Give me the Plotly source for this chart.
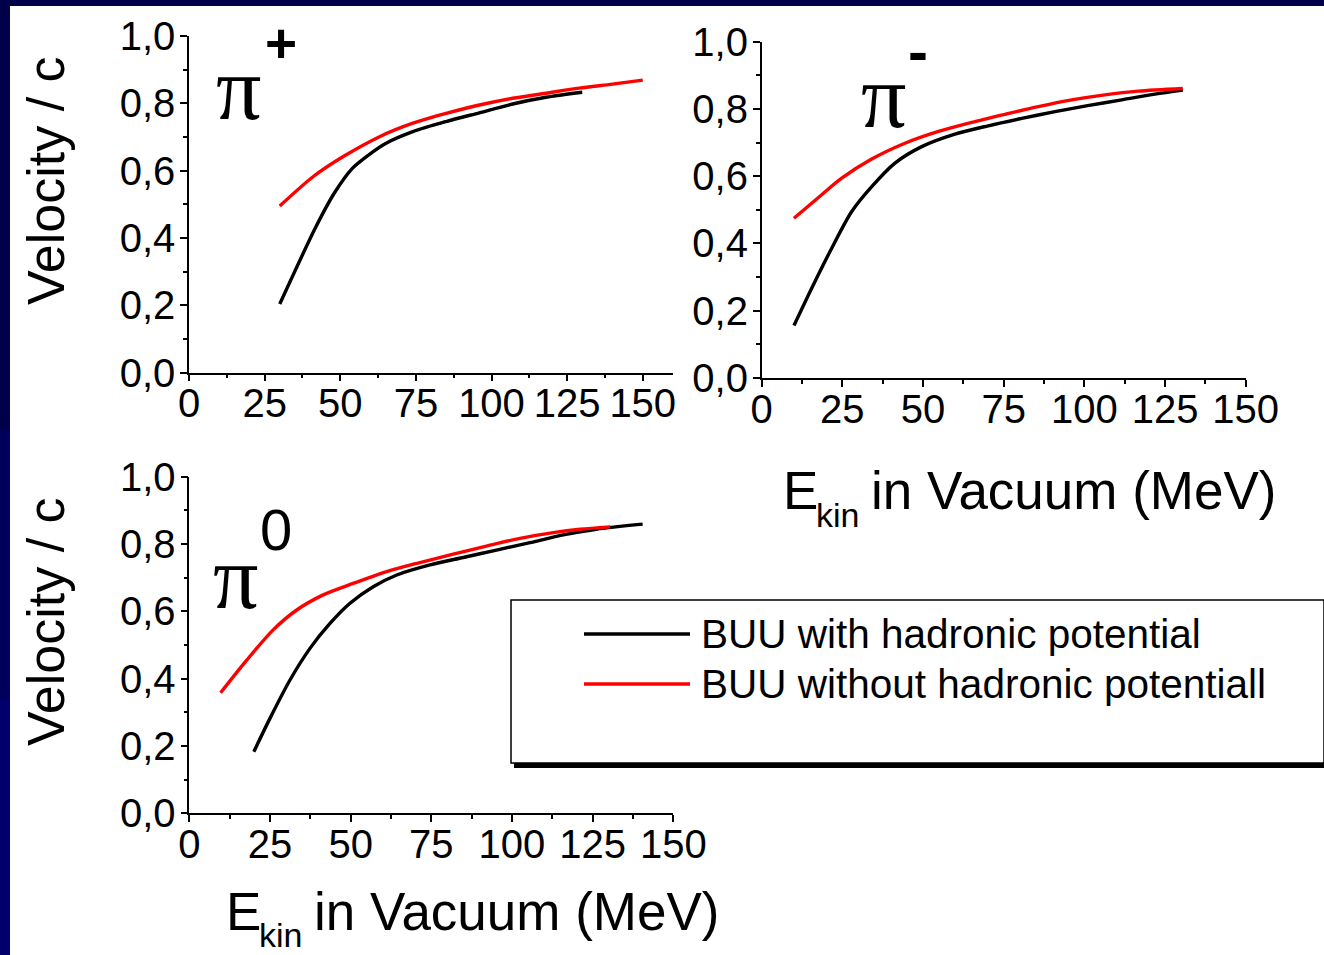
import plotly.graph_objects as go

W, H = 1324, 955

# ---- data: velocity (v/c) versus kinetic energy in vacuum (MeV) ----
# pi+
pip_e_with = [30, 42, 48, 54, 60, 65, 74, 85, 96, 107, 118, 130]
pip_v_with = [0.204, 0.434, 0.533, 0.607, 0.651, 0.681, 0.716, 0.746, 0.772, 0.798, 0.818, 0.833]
pip_e_without = [30, 41, 51, 63, 74, 85, 96, 107, 118, 129, 140, 150]
pip_v_without = [0.495, 0.582, 0.642, 0.701, 0.741, 0.770, 0.795, 0.815, 0.830, 0.845, 0.857, 0.869]

# pi-
pim_e_with = [10, 15.5, 21.7, 27.9, 34.1, 41.3, 49.6, 59.9, 70.2, 80.6, 90.9, 101, 111.6, 121.9, 130.5]
pim_v_with = [0.156, 0.267, 0.386, 0.495, 0.569, 0.639, 0.688, 0.725, 0.750, 0.772, 0.792, 0.810, 0.827, 0.844, 0.856]
pim_e_without = [10, 18.6, 24.8, 34.1, 44.4, 54.8, 65.1, 75.4, 85.7, 96.1, 106.4, 116.7, 130.5]
pim_v_without = [0.475, 0.545, 0.594, 0.651, 0.698, 0.733, 0.760, 0.784, 0.807, 0.827, 0.842, 0.853, 0.861]

# pi0
pi0_e_with = [20, 25, 31.2, 37.4, 43.6, 49.8, 57, 64.3, 74.6, 84.9, 95.2, 105.6, 115.9, 126.2, 140.5]
pi0_v_with = [0.183, 0.282, 0.396, 0.490, 0.564, 0.624, 0.673, 0.708, 0.738, 0.760, 0.782, 0.804, 0.827, 0.844, 0.859]
pi0_e_without = [9.7, 17.8, 26, 33.3, 41.5, 50.8, 61.2, 71.5, 81.8, 92.1, 102.5, 112.8, 121.1, 130.4]
pi0_v_without = [0.358, 0.455, 0.545, 0.604, 0.649, 0.683, 0.718, 0.745, 0.770, 0.794, 0.817, 0.834, 0.844, 0.851]

x_ticks = [0, 25, 50, 75, 100, 125, 150]
y_ticks = [0.0, 0.2, 0.4, 0.6, 0.8, 1.0]

series_names = ["BUU with hadronic potential", "BUU without hadronic potentiall"]
series_colors = ["#000000", "#ff0000"]

SANS = "Liberation Sans"
SERIF = "Liberation Serif"


def fx(px):
    return min(max(px / W, 0), 1)


def fy(py):
    return min(max(1 - py / H, 0), 1)


fig = go.Figure()

panels = [
    ("x", "y", pip_e_with, pip_v_with, pip_e_without, pip_v_without),
    ("x2", "y2", pim_e_with, pim_v_with, pim_e_without, pim_v_without),
    ("x3", "y3", pi0_e_with, pi0_v_with, pi0_e_without, pi0_v_without),
]
for xa, ya, ew, vw, eo, vo in panels:
    for e, v, name, col in ((ew, vw, series_names[0], series_colors[0]),
                            (eo, vo, series_names[1], series_colors[1])):
        fig.add_trace(go.Scatter(
            x=e, y=v, xaxis=xa, yaxis=ya, mode="lines", name=name,
            line=dict(color=col, width=3.4, shape="spline", smoothing=0.8),
            showlegend=False, hoverinfo="skip"))


def xaxis(domain, rng, anchor):
    return dict(domain=domain, range=rng, anchor=anchor,
                showline=True, linecolor="black", linewidth=1.5,
                ticks="outside", ticklen=7, tickwidth=1.5, tickcolor="black",
                tickmode="array", tickvals=x_ticks,
                tickfont=dict(family=SANS, size=40, color="black"),
                ticklabelstandoff=-12, automargin=False,
                minor=dict(ticks="outside", ticklen=4, tickwidth=1.5,
                           tickcolor="black", dtick=12.5, tick0=0),
                showgrid=False, zeroline=False, fixedrange=True)


def yaxis(domain, anchor):
    return dict(domain=domain, range=[0, 1], anchor=anchor,
                showline=True, linecolor="black", linewidth=1.5,
                ticks="outside", ticklen=7, tickwidth=1.5, tickcolor="black",
                tickmode="array", tickvals=y_ticks, tickformat=".1f",
                tickfont=dict(family=SANS, size=40, color="black"),
                ticklabelstandoff=-3, automargin=False,
                minor=dict(ticks="outside", ticklen=4, tickwidth=1.5,
                           tickcolor="black", dtick=0.1, tick0=0),
                showgrid=False, zeroline=False, fixedrange=True)


shapes = [
    # shading of the navy frame on the left edge
    dict(type="rect", xref="paper", yref="paper", x0=0, x1=fx(10), y0=fy(700), y1=fy(430),
         fillcolor="#00005a", line=dict(width=0), layer="below"),
    dict(type="rect", xref="paper", yref="paper", x0=0, x1=fx(10), y0=0, y1=fy(700),
         fillcolor="#00006c", line=dict(width=0), layer="below"),
    # white page area inside the navy frame
    dict(type="rect", xref="paper", yref="paper", x0=fx(10), x1=1, y0=0, y1=fy(6),
         fillcolor="white", line=dict(width=0), layer="below"),
    # legend box with shadow (runs off the right edge)
    dict(type="rect", xref="paper", yref="paper", x0=fx(514), x1=1, y0=fy(768), y1=fy(762),
         fillcolor="black", line=dict(width=0)),
    dict(type="rect", xref="paper", yref="paper", x0=fx(511), x1=1, y0=fy(763), y1=fy(600),
         fillcolor="white", line=dict(color="black", width=1.5)),
    dict(type="line", xref="paper", yref="paper", x0=fx(584), x1=fx(690), y0=fy(634), y1=fy(634),
         line=dict(color=series_colors[0], width=3.4)),
    dict(type="line", xref="paper", yref="paper", x0=fx(584), x1=fx(690), y0=fy(684), y1=fy(684),
         line=dict(color=series_colors[1], width=3.4)),
]


def label(text, x, y, size, family=SANS, xanchor="center", yanchor="middle", angle=0, bold=False):
    t = f"<b>{text}</b>" if bold else text
    return dict(text=t, x=fx(x), y=fy(y), xref="paper", yref="paper",
                xanchor=xanchor, yanchor=yanchor, textangle=angle, showarrow=False,
                font=dict(family=family, size=size, color="black"))


annotations = [
    label("Velocity / c", 46, 181, 52, angle=-90),
    label("Velocity / c", 46, 622, 52, angle=-90),
    # x titles
    label("E", 781, 491, 53, xanchor="left"),
    label("kin", 814, 515, 34, xanchor="left"),
    label("in Vacuum (MeV)", 869, 491, 53, xanchor="left"),
    label("E", 224, 911, 53, xanchor="left"),
    label("kin", 257, 935, 34, xanchor="left"),
    label("in Vacuum (MeV)", 312, 911, 53, xanchor="left"),
    # particle labels
    label("π", 238, 88, 90, family=SERIF),
    label("+", 281, 43, 55, bold=True),
    label("π", 883, 96, 90, family=SERIF),
    label("-", 918, 52, 60, bold=True),
    label("π", 235, 577, 90, family=SERIF),
    label("0", 276, 529, 58),
    # legend entries
    label(series_names[0], 699, 634, 40.5, xanchor="left"),
    label(series_names[1], 699, 684, 40.5, xanchor="left"),
]

fig.update_layout(
    width=W, height=H,
    autosize=False,
    margin=dict(l=0, r=0, t=0, b=0, pad=0, autoexpand=False),
    paper_bgcolor="#00004a", plot_bgcolor="rgba(0,0,0,0)",
    separators=",.",
    showlegend=False,
    xaxis=xaxis([fx(189), fx(673)], [0, 160], "y"),
    yaxis=yaxis([fy(372.7), fy(36)], "x"),
    xaxis2=xaxis([fx(761.7), fx(1245.7)], [0, 150], "y2"),
    yaxis2=yaxis([fy(378), fy(41.7)], "x2"),
    xaxis3=xaxis([fx(189.3), fx(673.3)], [0, 150], "y3"),
    yaxis3=yaxis([fy(813.3), fy(476.7)], "x3"),
    shapes=shapes,
    annotations=annotations,
)

fig.write_html("out.html", config={"displayModeBar": False, "responsive": False})
